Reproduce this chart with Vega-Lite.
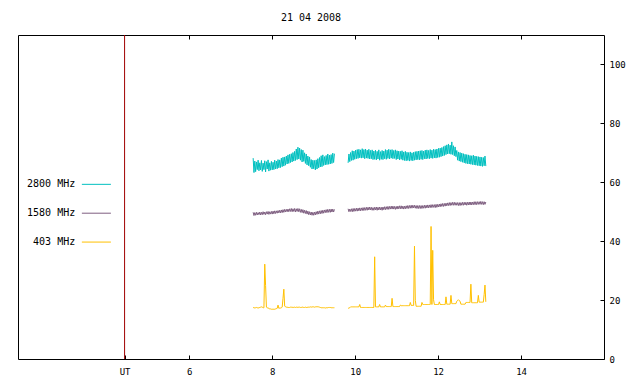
{
"$schema": "https://vega.github.io/schema/vega-lite/v6.json",
"width": 586, "height": 324,
"autosize": {"type": "none"},
"padding": {"left": 18, "top": 35, "right": 36, "bottom": 25},
"background": "white",
"title": {"text": "21 04 2008", "font": "DejaVu Sans Mono", "fontSize": 10, "fontWeight": "normal", "color": "#000", "offset": 12},
"config": {"view": {"stroke": "#000", "strokeWidth": 1}, "font": "DejaVu Sans Mono",
  "axis": {"labelFont": "DejaVu Sans Mono", "labelFontSize": 9, "labelColor": "#000", "tickColor": "#000", "tickWidth": 1, "grid": false, "domain": false, "title": null}},
"datasets": {
"flux": [
{"g":1,"t":7.54,"a":68.2,"b":49.8,"c":17.4},{"g":1,"t":7.56,"a":63.3,"b":48.7,"c":17.5},{"g":1,"t":7.58,"a":67.2,"b":49.7,"c":17.3},{"g":1,"t":7.60,"a":63.6,"b":48.8,"c":17.4},{"g":1,"t":7.62,"a":66.9,"b":49.8,"c":17.5},{"g":1,"t":7.64,"a":64.3,"b":48.9,"c":17.4},{"g":1,"t":7.66,"a":67.5,"b":49.7,"c":17.3},{"g":1,"t":7.68,"a":63.9,"b":49.0,"c":17.4},{"g":1,"t":7.70,"a":66.6,"b":49.9,"c":17.5},{"g":1,"t":7.72,"a":64.2,"b":48.9,"c":17.6},
{"g":1,"t":7.74,"a":67.4,"b":49.8,"c":17.7},{"g":1,"t":7.76,"a":63.7,"b":49.0,"c":17.6},{"g":1,"t":7.78,"a":66.5,"b":50.0,"c":17.4},{"g":1,"t":7.80,"a":64.3,"b":49.1,"c":17.4},{"g":1,"t":7.82,"a":67.3,"b":49.9,"c":32.2},{"g":1,"t":7.84,"a":63.5,"b":49.0,"c":25.0},{"g":1,"t":7.86,"a":67.0,"b":50.0,"c":17.6},{"g":1,"t":7.88,"a":64.5,"b":49.2,"c":17.4},{"g":1,"t":7.90,"a":67.6,"b":50.1,"c":17.3},{"g":1,"t":7.92,"a":63.8,"b":49.1,"c":17.2},
{"g":1,"t":7.94,"a":66.6,"b":50.0,"c":17.0},{"g":1,"t":7.96,"a":64.1,"b":49.2,"c":17.0},{"g":1,"t":7.98,"a":67.1,"b":50.1,"c":16.9},{"g":1,"t":8.00,"a":64.2,"b":49.2,"c":16.9},{"g":1,"t":8.02,"a":66.8,"b":50.2,"c":16.9},{"g":1,"t":8.04,"a":64.3,"b":49.3,"c":16.9},{"g":1,"t":8.06,"a":67.5,"b":50.3,"c":16.9},{"g":1,"t":8.08,"a":64.5,"b":49.4,"c":17.0},{"g":1,"t":8.10,"a":67.2,"b":50.3,"c":17.1},{"g":1,"t":8.12,"a":64.6,"b":49.5,"c":17.2},
{"g":1,"t":8.14,"a":67.7,"b":50.4,"c":18.3},{"g":1,"t":8.16,"a":64.9,"b":49.6,"c":17.2},{"g":1,"t":8.18,"a":67.6,"b":50.5,"c":17.3},{"g":1,"t":8.20,"a":65.0,"b":49.6,"c":17.3},{"g":1,"t":8.22,"a":68.2,"b":50.6,"c":17.4},{"g":1,"t":8.24,"a":65.3,"b":49.7,"c":17.6},{"g":1,"t":8.26,"a":68.5,"b":50.7,"c":20.6},{"g":1,"t":8.28,"a":65.5,"b":49.8,"c":23.7},{"g":1,"t":8.30,"a":68.6,"b":50.8,"c":18.0},{"g":1,"t":8.32,"a":65.8,"b":49.9,"c":17.7},
{"g":1,"t":8.34,"a":68.9,"b":50.8,"c":17.6},{"g":1,"t":8.36,"a":66.2,"b":50.0,"c":17.6},{"g":1,"t":8.38,"a":69.3,"b":50.9,"c":17.5},{"g":1,"t":8.40,"a":66.4,"b":50.0,"c":17.5},{"g":1,"t":8.42,"a":69.5,"b":51.0,"c":17.5},{"g":1,"t":8.44,"a":66.7,"b":50.1,"c":17.6},{"g":1,"t":8.46,"a":69.7,"b":51.1,"c":17.6},{"g":1,"t":8.48,"a":66.9,"b":50.0,"c":17.5},{"g":1,"t":8.50,"a":70.1,"b":51.0,"c":17.6},{"g":1,"t":8.52,"a":67.2,"b":50.1,"c":17.5},
{"g":1,"t":8.54,"a":70.5,"b":51.1,"c":17.6},{"g":1,"t":8.56,"a":67.4,"b":49.9,"c":17.5},{"g":1,"t":8.58,"a":71.3,"b":51.0,"c":17.6},{"g":1,"t":8.60,"a":67.7,"b":50.1,"c":17.6},{"g":1,"t":8.62,"a":71.9,"b":51.1,"c":17.5},{"g":1,"t":8.64,"a":67.9,"b":50.0,"c":17.6},{"g":1,"t":8.66,"a":71.6,"b":51.0,"c":17.6},{"g":1,"t":8.68,"a":67.5,"b":49.8,"c":17.5},{"g":1,"t":8.70,"a":71.1,"b":50.8,"c":17.5},{"g":1,"t":8.72,"a":66.9,"b":49.7,"c":17.6},
{"g":1,"t":8.74,"a":70.9,"b":50.7,"c":17.6},{"g":1,"t":8.76,"a":67.1,"b":49.5,"c":17.5},{"g":1,"t":8.78,"a":70.0,"b":50.5,"c":17.5},{"g":1,"t":8.80,"a":66.4,"b":49.4,"c":17.6},{"g":1,"t":8.82,"a":69.6,"b":50.4,"c":17.5},{"g":1,"t":8.84,"a":65.9,"b":49.2,"c":17.5},{"g":1,"t":8.86,"a":68.9,"b":50.2,"c":17.6},{"g":1,"t":8.88,"a":65.6,"b":49.0,"c":17.6},{"g":1,"t":8.90,"a":68.6,"b":50.0,"c":17.6},{"g":1,"t":8.92,"a":65.1,"b":48.9,"c":17.7},
{"g":1,"t":8.94,"a":67.7,"b":49.9,"c":17.6},{"g":1,"t":8.96,"a":64.5,"b":48.8,"c":17.7},{"g":1,"t":8.98,"a":67.5,"b":49.8,"c":17.7},{"g":1,"t":9.00,"a":64.6,"b":48.8,"c":17.7},{"g":1,"t":9.02,"a":67.4,"b":49.9,"c":17.6},{"g":1,"t":9.04,"a":64.2,"b":48.9,"c":17.7},{"g":1,"t":9.06,"a":67.6,"b":50.0,"c":17.7},{"g":1,"t":9.08,"a":64.5,"b":49.1,"c":17.8},{"g":1,"t":9.10,"a":68.0,"b":50.2,"c":17.7},{"g":1,"t":9.12,"a":64.9,"b":49.2,"c":17.7},
{"g":1,"t":9.14,"a":68.4,"b":50.3,"c":17.6},{"g":1,"t":9.16,"a":65.2,"b":49.3,"c":17.5},{"g":1,"t":9.18,"a":69.0,"b":50.4,"c":17.4},{"g":1,"t":9.20,"a":65.3,"b":49.4,"c":17.4},{"g":1,"t":9.22,"a":69.3,"b":50.5,"c":17.4},{"g":1,"t":9.24,"a":65.7,"b":49.5,"c":17.4},{"g":1,"t":9.26,"a":68.7,"b":50.6,"c":17.4},{"g":1,"t":9.28,"a":65.9,"b":49.7,"c":17.3},{"g":1,"t":9.30,"a":69.1,"b":50.7,"c":17.4},{"g":1,"t":9.32,"a":66.0,"b":49.7,"c":17.4},
{"g":1,"t":9.34,"a":69.6,"b":50.8,"c":17.4},{"g":1,"t":9.36,"a":66.1,"b":49.8,"c":17.5},{"g":1,"t":9.38,"a":69.2,"b":50.8,"c":17.5},{"g":1,"t":9.40,"a":66.2,"b":49.8,"c":17.5},{"g":1,"t":9.42,"a":69.4,"b":50.9,"c":17.4},{"g":1,"t":9.44,"a":66.4,"b":49.9,"c":17.4},{"g":1,"t":9.46,"a":69.9,"b":50.9,"c":17.4},{"g":1,"t":9.48,"a":66.7,"b":49.9,"c":17.4},{"g":1,"t":9.50,"a":69.7,"b":50.8,"c":17.4},
{"g":2,"t":9.83,"a":66.6,"b":51.0,"c":17.2},{"g":2,"t":9.85,"a":69.6,"b":50.0,"c":17.3},{"g":2,"t":9.87,"a":67.0,"b":50.9,"c":17.4},{"g":2,"t":9.89,"a":70.1,"b":50.1,"c":17.7},{"g":2,"t":9.91,"a":67.4,"b":51.0,"c":17.7},{"g":2,"t":9.93,"a":70.7,"b":50.0,"c":17.7},{"g":2,"t":9.95,"a":67.5,"b":51.1,"c":17.7},{"g":2,"t":9.97,"a":70.6,"b":50.1,"c":17.7},{"g":2,"t":9.99,"a":67.8,"b":51.1,"c":17.7},{"g":2,"t":10.01,"a":70.9,"b":50.2,"c":17.7},
{"g":2,"t":10.03,"a":68.0,"b":51.2,"c":17.7},{"g":2,"t":10.05,"a":71.1,"b":50.2,"c":17.7},{"g":2,"t":10.07,"a":68.1,"b":51.2,"c":17.7},{"g":2,"t":10.09,"a":71.2,"b":50.3,"c":17.7},{"g":2,"t":10.11,"a":68.3,"b":51.3,"c":18.5},{"g":2,"t":10.13,"a":71.0,"b":50.3,"c":17.5},{"g":2,"t":10.15,"a":68.2,"b":51.3,"c":17.5},{"g":2,"t":10.17,"a":71.4,"b":50.4,"c":17.5},{"g":2,"t":10.19,"a":68.3,"b":51.4,"c":17.5},{"g":2,"t":10.21,"a":71.1,"b":50.4,"c":17.5},
{"g":2,"t":10.23,"a":68.0,"b":51.4,"c":17.5},{"g":2,"t":10.25,"a":71.3,"b":50.5,"c":17.5},{"g":2,"t":10.27,"a":68.2,"b":51.5,"c":17.5},{"g":2,"t":10.29,"a":70.9,"b":50.5,"c":17.5},{"g":2,"t":10.31,"a":68.1,"b":51.5,"c":17.5},{"g":2,"t":10.33,"a":71.2,"b":50.6,"c":17.5},{"g":2,"t":10.35,"a":67.9,"b":51.6,"c":17.5},{"g":2,"t":10.37,"a":70.8,"b":50.6,"c":17.5},{"g":2,"t":10.39,"a":68.0,"b":51.5,"c":17.5},{"g":2,"t":10.41,"a":71.0,"b":50.5,"c":17.5},
{"g":2,"t":10.43,"a":67.7,"b":51.4,"c":17.5},{"g":2,"t":10.45,"a":70.6,"b":50.5,"c":17.5},{"g":2,"t":10.47,"a":67.8,"b":51.5,"c":34.7},{"g":2,"t":10.49,"a":70.9,"b":50.6,"c":17.7},{"g":2,"t":10.51,"a":67.6,"b":51.6,"c":17.7},{"g":2,"t":10.53,"a":70.5,"b":50.5,"c":17.7},{"g":2,"t":10.55,"a":67.9,"b":51.5,"c":17.7},{"g":2,"t":10.57,"a":71.0,"b":50.6,"c":17.7},{"g":2,"t":10.59,"a":67.5,"b":51.6,"c":18.5},{"g":2,"t":10.61,"a":70.4,"b":50.6,"c":17.7},
{"g":2,"t":10.63,"a":67.8,"b":51.5,"c":17.7},{"g":2,"t":10.65,"a":70.8,"b":50.5,"c":17.7},{"g":2,"t":10.67,"a":67.7,"b":51.6,"c":17.7},{"g":2,"t":10.69,"a":70.6,"b":50.7,"c":17.7},{"g":2,"t":10.71,"a":68.0,"b":51.7,"c":17.7},{"g":2,"t":10.73,"a":71.1,"b":50.7,"c":18.3},{"g":2,"t":10.75,"a":67.8,"b":51.7,"c":17.8},{"g":2,"t":10.77,"a":70.9,"b":50.8,"c":17.8},{"g":2,"t":10.79,"a":68.1,"b":51.8,"c":17.8},{"g":2,"t":10.81,"a":71.2,"b":50.8,"c":17.8},
{"g":2,"t":10.83,"a":67.9,"b":51.8,"c":17.8},{"g":2,"t":10.85,"a":71.0,"b":50.9,"c":17.8},{"g":2,"t":10.87,"a":68.2,"b":51.9,"c":17.8},{"g":2,"t":10.89,"a":71.1,"b":50.9,"c":20.6},{"g":2,"t":10.91,"a":68.0,"b":51.9,"c":17.8},{"g":2,"t":10.93,"a":70.8,"b":50.9,"c":17.8},{"g":2,"t":10.95,"a":68.1,"b":51.8,"c":17.8},{"g":2,"t":10.97,"a":71.0,"b":50.8,"c":17.8},{"g":2,"t":10.99,"a":67.7,"b":51.8,"c":17.8},{"g":2,"t":11.01,"a":70.7,"b":50.9,"c":17.8},
{"g":2,"t":11.03,"a":67.9,"b":51.9,"c":17.8},{"g":2,"t":11.05,"a":70.6,"b":51.0,"c":17.8},{"g":2,"t":11.07,"a":67.6,"b":52.0,"c":17.8},{"g":2,"t":11.09,"a":70.5,"b":51.0,"c":18.3},{"g":2,"t":11.11,"a":67.8,"b":52.0,"c":18.1},{"g":2,"t":11.13,"a":70.7,"b":51.0,"c":18.1},{"g":2,"t":11.15,"a":67.5,"b":51.9,"c":18.1},{"g":2,"t":11.17,"a":70.3,"b":50.9,"c":18.1},{"g":2,"t":11.19,"a":67.4,"b":51.9,"c":18.1},{"g":2,"t":11.21,"a":70.5,"b":51.0,"c":18.1},
{"g":2,"t":11.23,"a":67.3,"b":52.0,"c":18.1},{"g":2,"t":11.25,"a":70.2,"b":51.1,"c":18.1},{"g":2,"t":11.27,"a":67.4,"b":52.1,"c":18.1},{"g":2,"t":11.29,"a":70.1,"b":51.1,"c":18.1},{"g":2,"t":11.31,"a":67.2,"b":52.1,"c":18.1},{"g":2,"t":11.33,"a":70.3,"b":51.2,"c":19.2},{"g":2,"t":11.35,"a":67.4,"b":52.2,"c":18.2},{"g":2,"t":11.37,"a":70.0,"b":51.2,"c":18.2},{"g":2,"t":11.39,"a":67.3,"b":52.2,"c":18.2},{"g":2,"t":11.41,"a":70.2,"b":51.3,"c":18.2},
{"g":2,"t":11.43,"a":67.5,"b":52.2,"c":38.3},{"g":2,"t":11.45,"a":70.4,"b":51.2,"c":19.9},{"g":2,"t":11.47,"a":67.6,"b":52.1,"c":17.9},{"g":2,"t":11.49,"a":70.5,"b":51.1,"c":17.9},{"g":2,"t":11.51,"a":67.7,"b":52.1,"c":17.9},{"g":2,"t":11.53,"a":70.6,"b":51.1,"c":17.9},{"g":2,"t":11.55,"a":67.6,"b":52.1,"c":17.9},{"g":2,"t":11.57,"a":70.7,"b":51.1,"c":17.9},{"g":2,"t":11.59,"a":67.8,"b":52.1,"c":17.9},{"g":2,"t":11.61,"a":70.8,"b":51.1,"c":19.2},
{"g":2,"t":11.63,"a":67.7,"b":52.1,"c":18.5},{"g":2,"t":11.65,"a":70.6,"b":51.2,"c":18.5},{"g":2,"t":11.67,"a":68.0,"b":52.2,"c":18.5},{"g":2,"t":11.69,"a":70.9,"b":51.2,"c":18.5},{"g":2,"t":11.71,"a":67.9,"b":52.2,"c":18.5},{"g":2,"t":11.73,"a":71.0,"b":51.3,"c":18.5},{"g":2,"t":11.75,"a":68.1,"b":52.3,"c":18.5},{"g":2,"t":11.77,"a":70.8,"b":51.3,"c":18.5},{"g":2,"t":11.79,"a":68.0,"b":52.3,"c":18.5},{"g":2,"t":11.81,"a":71.1,"b":51.4,"c":18.5},
{"g":2,"t":11.83,"a":68.2,"b":52.4,"c":45.0},{"g":2,"t":11.85,"a":70.9,"b":51.4,"c":18.5},{"g":2,"t":11.87,"a":68.1,"b":52.4,"c":36.9},{"g":2,"t":11.89,"a":71.2,"b":51.5,"c":20.1},{"g":2,"t":11.91,"a":68.3,"b":52.4,"c":18.5},{"g":2,"t":11.93,"a":71.1,"b":51.4,"c":18.5},{"g":2,"t":11.95,"a":68.2,"b":52.5,"c":18.5},{"g":2,"t":11.97,"a":71.3,"b":51.5,"c":18.5},{"g":2,"t":11.99,"a":68.4,"b":52.5,"c":18.5},{"g":2,"t":12.01,"a":71.5,"b":51.6,"c":18.5},
{"g":2,"t":12.03,"a":68.5,"b":52.6,"c":19.4},{"g":2,"t":12.05,"a":71.6,"b":51.7,"c":18.5},{"g":2,"t":12.07,"a":68.7,"b":52.7,"c":18.5},{"g":2,"t":12.09,"a":71.8,"b":51.8,"c":18.5},{"g":2,"t":12.11,"a":68.9,"b":52.8,"c":18.5},{"g":2,"t":12.13,"a":72.1,"b":51.8,"c":18.5},{"g":2,"t":12.15,"a":69.1,"b":52.8,"c":18.5},{"g":2,"t":12.17,"a":72.4,"b":51.9,"c":18.5},{"g":2,"t":12.19,"a":69.4,"b":52.9,"c":21.1},{"g":2,"t":12.21,"a":72.7,"b":52.0,"c":18.6},
{"g":2,"t":12.23,"a":69.6,"b":53.0,"c":18.6},{"g":2,"t":12.25,"a":73.0,"b":52.1,"c":18.6},{"g":2,"t":12.27,"a":69.7,"b":53.1,"c":18.6},{"g":2,"t":12.29,"a":72.6,"b":52.1,"c":18.6},{"g":2,"t":12.31,"a":69.5,"b":53.1,"c":21.6},{"g":2,"t":12.33,"a":73.7,"b":52.2,"c":18.8},{"g":2,"t":12.35,"a":69.4,"b":53.2,"c":18.8},{"g":2,"t":12.37,"a":72.4,"b":52.2,"c":18.8},{"g":2,"t":12.39,"a":69.0,"b":53.2,"c":18.8},{"g":2,"t":12.41,"a":72.0,"b":52.2,"c":18.8},
{"g":2,"t":12.43,"a":68.7,"b":53.1,"c":18.8},{"g":2,"t":12.45,"a":70.8,"b":52.2,"c":19.6},{"g":2,"t":12.47,"a":67.5,"b":53.1,"c":19.9},{"g":2,"t":12.49,"a":70.3,"b":52.1,"c":20.1},{"g":2,"t":12.51,"a":67.2,"b":53.1,"c":19.8},{"g":2,"t":12.53,"a":70.1,"b":52.1,"c":19.6},{"g":2,"t":12.55,"a":67.0,"b":53.1,"c":18.6},{"g":2,"t":12.57,"a":69.9,"b":52.2,"c":18.6},{"g":2,"t":12.59,"a":66.8,"b":53.2,"c":18.6},{"g":2,"t":12.61,"a":69.7,"b":52.2,"c":18.6},
{"g":2,"t":12.63,"a":66.6,"b":53.2,"c":18.6},{"g":2,"t":12.65,"a":69.5,"b":52.3,"c":18.6},{"g":2,"t":12.67,"a":66.4,"b":53.2,"c":19.2},{"g":2,"t":12.69,"a":69.4,"b":52.2,"c":19.2},{"g":2,"t":12.71,"a":66.3,"b":53.2,"c":19.2},{"g":2,"t":12.73,"a":69.3,"b":52.3,"c":19.2},{"g":2,"t":12.75,"a":66.2,"b":53.3,"c":19.2},{"g":2,"t":12.77,"a":69.1,"b":52.3,"c":19.2},{"g":2,"t":12.79,"a":66.1,"b":53.3,"c":25.4},{"g":2,"t":12.81,"a":69.0,"b":52.3,"c":19.1},
{"g":2,"t":12.83,"a":66.0,"b":53.3,"c":19.1},{"g":2,"t":12.85,"a":69.2,"b":52.4,"c":19.1},{"g":2,"t":12.87,"a":65.9,"b":53.4,"c":19.1},{"g":2,"t":12.89,"a":68.9,"b":52.4,"c":19.1},{"g":2,"t":12.91,"a":65.8,"b":53.4,"c":19.1},{"g":2,"t":12.93,"a":68.8,"b":52.4,"c":19.1},{"g":2,"t":12.95,"a":65.7,"b":53.4,"c":19.1},{"g":2,"t":12.97,"a":68.7,"b":52.5,"c":21.6},{"g":2,"t":12.99,"a":65.6,"b":53.4,"c":19.3},{"g":2,"t":13.01,"a":68.6,"b":52.5,"c":19.3},
{"g":2,"t":13.03,"a":65.5,"b":53.5,"c":19.3},{"g":2,"t":13.05,"a":68.5,"b":52.5,"c":19.3},{"g":2,"t":13.07,"a":65.4,"b":53.4,"c":19.3},{"g":2,"t":13.09,"a":68.4,"b":52.4,"c":19.3},{"g":2,"t":13.11,"a":65.6,"b":53.4,"c":21.9},{"g":2,"t":13.13,"a":68.9,"b":52.5,"c":25.1},{"g":2,"t":13.15,"a":65.5,"b":53.3,"c":19.4}
],
"legend": [
{"s":"a","label":"2800 MHz","ly":59.3},
{"s":"b","label":"1580 MHz","ly":49.5},
{"s":"c","label":"403 MHz","ly":39.7}
],
"sunrise": [{"ut":4.44}]
},
"resolve": {"axis": {"x": "independent", "y": "independent"}},
"layer": [
{
"data": {"name": "flux"},
"transform": [{"fold": ["a","b","c"], "as": ["s","v"]}],
"mark": {"type": "line", "strokeWidth": 1, "interpolate": "linear"},
"encoding": {
  "x": {"field": "t", "type": "quantitative", "scale": {"domain": [1.87, 16], "nice": false, "zero": false},
        "axis": {"orient": "bottom", "values": [4.44, 6, 8, 10, 12, 14], "labelExpr": "datum.value < 5 ? 'UT' : datum.label", "offset": -4, "tickSize": 4, "labelPadding": 8, "labelFlush": false}},
  "y": {"field": "v", "type": "quantitative", "scale": {"domain": [0, 110], "nice": false, "zero": true},
        "axis": {"orient": "right", "values": [0, 20, 40, 60, 80, 100], "offset": -4, "tickSize": 4, "labelPadding": 5, "labelFlush": false}},
  "color": {"field": "s", "type": "nominal", "scale": {"domain": ["a","b","c"], "range": ["#00C0C0", "#7E5E80", "#FFC000"]}, "legend": null},
  "detail": {"field": "g"}
}
},
{
"data": {"name": "sunrise"},
"mark": {"type": "rule", "color": "#A00000", "strokeWidth": 1},
"encoding": {
  "x": {"field": "ut", "type": "quantitative", "axis": {"orient": "top", "values": [6, 8, 10, 12, 14], "labels": false, "offset": -4, "tickSize": 4}}
}
},
{
"data": {"name": "legend"},
"mark": {"type": "text", "align": "right", "baseline": "middle", "font": "DejaVu Sans Mono", "fontSize": 10, "color": "#000"},
"encoding": {
  "x": {"datum": 3.25, "type": "quantitative", "axis": null},
  "y": {"field": "ly", "type": "quantitative", "axis": null},
  "text": {"field": "label"}
}
},
{
"data": {"name": "legend"},
"mark": {"type": "rule", "strokeWidth": 1},
"encoding": {
  "x": {"datum": 3.41, "type": "quantitative", "axis": null},
  "x2": {"datum": 4.11},
  "y": {"field": "ly", "type": "quantitative", "axis": null},
  "color": {"field": "s", "type": "nominal", "legend": null}
}
}
]
}
